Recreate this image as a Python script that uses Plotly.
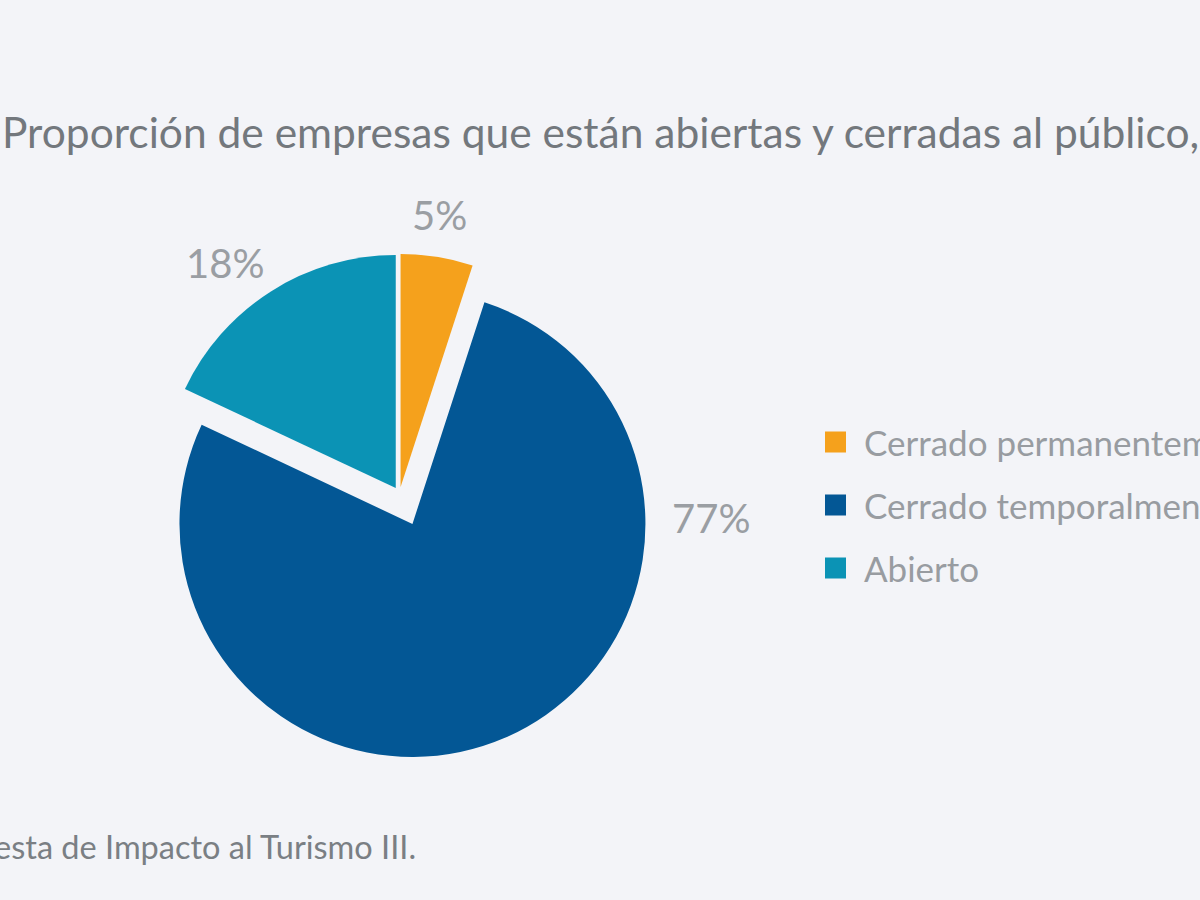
import plotly.graph_objects as go

categories = ["Cerrado permanentemente", "Cerrado temporalmente", "Abierto"]
values = [5, 77, 18]
colors = ["#f5a11c", "#035795", "#0b93b5"]
pulls = [0.03, 0.14, 0.03]
title_text = "Proporción de empresas que están abiertas y cerradas al público,"
source_text = "esta de Impacto al Turismo III."
FONT = "Lato"
W, H = 1200, 900
# label centres in page pixels
label_xy = [(439, 215), (711, 518), (225, 263)]
legend_rows_y = [442, 505, 568]
swatch_x0, swatch_x1, legend_text_x = 825, 846, 862
pie_cx, pie_cy, pie_half = 399.5, 494, 265.6


def px(x):
    return x / W


def py(y):
    return 1 - y / H


fig = go.Figure(go.Pie(
    labels=categories, values=values, sort=False, direction="clockwise", rotation=0,
    marker=dict(colors=colors, line=dict(width=0)), pull=pulls,
    textinfo="none", automargin=False, showlegend=False,
    domain=dict(x=[px(pie_cx - pie_half), px(pie_cx + pie_half)],
                y=[py(pie_cy + pie_half), py(pie_cy - pie_half)]),
))

annotations = [
    dict(text=title_text, x=0, y=py(131.5), xref="paper", yref="paper", xanchor="left",
         yanchor="middle", showarrow=False, font=dict(family=FONT, size=42.5, color="#73787d")),
    dict(text=source_text, x=0, y=py(846), xref="paper", yref="paper", xanchor="left",
         yanchor="middle", showarrow=False, xshift=-8, font=dict(family=FONT, size=32.5, color="#7a7f84")),
]
for v, (lx, ly) in zip(values, label_xy):
    annotations.append(dict(text=f"{v}%", x=px(lx), y=py(ly), xref="paper", yref="paper",
                            xanchor="center", yanchor="middle", showarrow=False,
                            font=dict(family=FONT, size=40, color="#9a9ea3")))
shapes = []
for name, col, ry in zip(categories, colors, legend_rows_y):
    shapes.append(dict(type="rect", xref="paper", yref="paper", x0=px(swatch_x0), x1=px(swatch_x1),
                       y0=py(ry - 10.5), y1=py(ry + 10.5), fillcolor=col, line=dict(width=0)))
    annotations.append(dict(text=name, x=px(legend_text_x), y=py(ry), xref="paper", yref="paper",
                            xanchor="left", yanchor="middle", showarrow=False,
                            font=dict(family=FONT, size=35, color="#989ca1")))

fig.update_layout(
    width=W, height=H, margin=dict(l=0, r=0, t=0, b=0),
    paper_bgcolor="#f3f4f8", showlegend=False,
    font=dict(family=FONT, color="#83888d"),
    annotations=annotations, shapes=shapes,
)
fig.write_html("out.html", config=dict(displayModeBar=False),
               post_script="document.body.style.margin='0';")
